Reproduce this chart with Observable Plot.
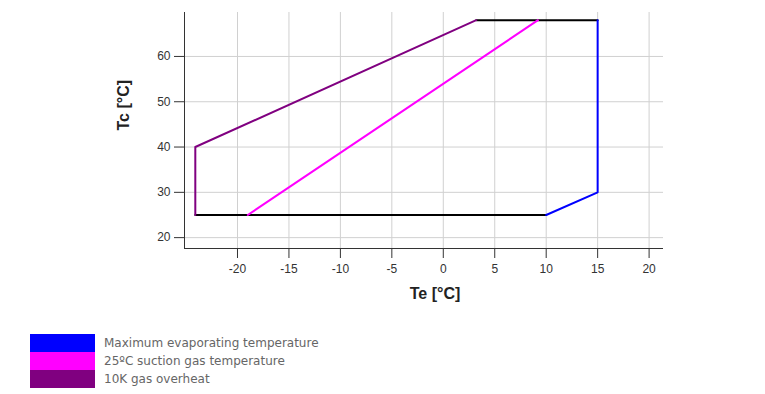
<!DOCTYPE html>
<html>
<head>
<meta charset="utf-8">
<script src="https://cdn.jsdelivr.net/npm/d3@7"></script>
<script src="https://cdn.jsdelivr.net/npm/@observablehq/plot@0.6"></script>
<style>
  body { margin: 0; background: #fff; }
  #chart { width: 765px; }
  .legend { margin-left: 30px; margin-top: 19px; font-family: "DejaVu Sans", sans-serif; font-size: 12px; color: #666; }
  .legend .row { display: flex; align-items: center; height: 18px; }
  .legend .sw { width: 65px; height: 18px; margin-right: 9px; }
</style>
</head>
<body>
<div id="chart"></div>
<script>
// Tick labels
const xTicks = [-20, -15, -10, -5, 0, 5, 10, 15, 20];
const yTicks = [20, 30, 40, 50, 60];

// Envelope black edges
const topEdgeTe = [3.2, 15];
const topEdgeTc = [68, 68];
const bottomEdgeTe = [-24.1, 10];
const bottomEdgeTc = [25, 25];

// Series
const maxEvapTe = [10, 15, 15];
const maxEvapTc = [25, 30, 68];
const suctionTe = [-19, 9.2];
const suctionTc = [25, 68];
const overheatTe = [-24.1, -24.1, 3.2];
const overheatTc = [25, 40, 68];

const seriesNames = ["Maximum evaporating temperature", "25ºC suction gas temperature", "10K gas overheat"];
const seriesColors = ["#0000ff", "#ff00ff", "#800080"];

const toPts = (te, tc) => te.map((t, i) => ({te: t, tc: tc[i]}));
const xDomain = [-25.15, 21.4];
const yDomain = [17.6, 69.7];
const fmt = d => String(d);

const plot = Plot.plot({
  width: 765,
  height: 315,
  marginLeft: 184,
  marginRight: 102,
  marginTop: 12,
  marginBottom: 67,
  style: { fontFamily: "'Liberation Sans', Arial, sans-serif", fontSize: "12px", color: "#333" },
  x: { domain: xDomain },
  y: { domain: yDomain },
  marks: [
    Plot.gridX(xTicks, { stroke: "#d0d0d0", strokeOpacity: 1 }),
    Plot.gridY(yTicks, { stroke: "#d0d0d0", strokeOpacity: 1 }),
    Plot.axisX(xTicks, { tickSize: 10, tickPadding: 6, label: null, stroke: "#333", tickFormat: fmt }),
    Plot.axisY(yTicks, { tickSize: 10, tickPadding: 4, label: null, stroke: "#333", tickFormat: fmt }),
    Plot.ruleX([xDomain[0]], { stroke: "#333" }),
    Plot.ruleY([yDomain[0]], { stroke: "#333" }),
    Plot.line(toPts(topEdgeTe, topEdgeTc), { x: "te", y: "tc", stroke: "#000", strokeWidth: 2 }),
    Plot.line(toPts(bottomEdgeTe, bottomEdgeTc), { x: "te", y: "tc", stroke: "#000", strokeWidth: 2 }),
    Plot.line(toPts(maxEvapTe, maxEvapTc), { x: "te", y: "tc", stroke: seriesColors[0], strokeWidth: 2 }),
    Plot.line(toPts(suctionTe, suctionTc), { x: "te", y: "tc", stroke: seriesColors[1], strokeWidth: 2 }),
    Plot.line(toPts(overheatTe, overheatTc), { x: "te", y: "tc", stroke: seriesColors[2], strokeWidth: 2 }),
    Plot.text(["Tc [°C]"], { frameAnchor: "left", dx: -61, rotate: -90, fontWeight: "bold", fontSize: 16, fill: "#222" }),
    Plot.text(["Te [°C]"], { frameAnchor: "bottom", dx: 11, dy: 50, fontWeight: "bold", fontSize: 16, fill: "#222" })
  ]
});
document.getElementById("chart").appendChild(plot);

const legend = document.createElement("div");
legend.className = "legend";
seriesNames.forEach((name, i) => {
  const row = document.createElement("div");
  row.className = "row";
  const sw = document.createElement("div");
  sw.className = "sw";
  sw.style.background = seriesColors[i];
  const label = document.createElement("span");
  label.textContent = name;
  row.appendChild(sw);
  row.appendChild(label);
  legend.appendChild(row);
});
document.getElementById("chart").appendChild(legend);
</script>
</body>
</html>
